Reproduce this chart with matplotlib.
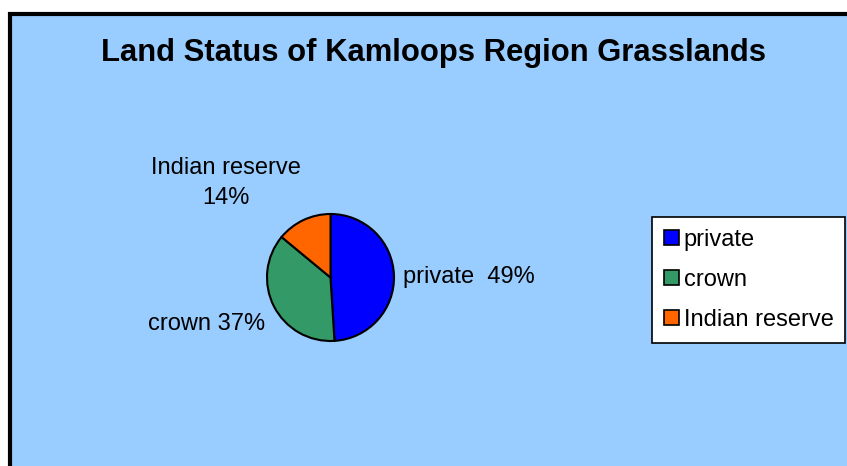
import matplotlib.pyplot as plt
from matplotlib.patches import Rectangle, Patch

# data
categories = ["private", "crown", "Indian reserve"]
shares = [49, 37, 14]
colors = ["#0000FF", "#339966", "#FF6600"]
title = "Land Status of Kamloops Region Grasslands"

W, H = 847, 466
plt.rcParams["font.family"] = ["Liberation Sans", "DejaVu Sans"]

fig = plt.figure(figsize=(W / 100, H / 100), dpi=100, facecolor="white")


def fx(px):
    return px / W


def fy(py):
    return 1 - py / H


# chart area background with thick black border (cut off at right/bottom)
fig.patches.append(Rectangle((fx(10), fy(480)), fx(860), 480 / H - 14 / H,
                             transform=fig.transFigure, facecolor="#99CCFF",
                             edgecolor="black", linewidth=3, zorder=-10))

fig.text(fx(433), fy(53), title, ha="center", va="center",
         fontsize=22.3, fontweight="bold")

# pie
ax = fig.add_axes([fx(267), fy(341), fx(127), 127 / H])
ax.set_zorder(5)
wedges, _ = ax.pie(shares, colors=colors, startangle=90, counterclock=False,
                   wedgeprops=dict(edgecolor="black", linewidth=1.5))
ax.set_aspect("equal")
ax.set_xlim(-1, 1)
ax.set_ylim(-1, 1)
ax.axis("off")

# data labels
fig.text(fx(403), fy(277), f"{categories[0]}  {shares[0]}%",
         ha="left", va="center", fontsize=17)
fig.text(fx(207), fy(324), f"{categories[1]} {shares[1]}%",
         ha="center", va="center", fontsize=17)
fig.text(fx(226), fy(183), f"{categories[2]}\n{shares[2]}%",
         ha="center", va="center", fontsize=17, linespacing=1.5)

# legend
handles = [Patch(facecolor=c, edgecolor="black", linewidth=1.2) for c in colors]
leg = fig.legend(handles, categories, loc="upper left",
                 bbox_to_anchor=(fx(652), fy(217)), fontsize=17,
                 frameon=True, fancybox=False, edgecolor="black", framealpha=1,
                 handlelength=0.64, handleheight=0.6, handletextpad=0.2,
                 labelspacing=0.77, borderpad=0.5, borderaxespad=0)
leg.get_frame().set_linewidth(1.2)

fig.savefig("out.png", dpi=100, facecolor="white")
